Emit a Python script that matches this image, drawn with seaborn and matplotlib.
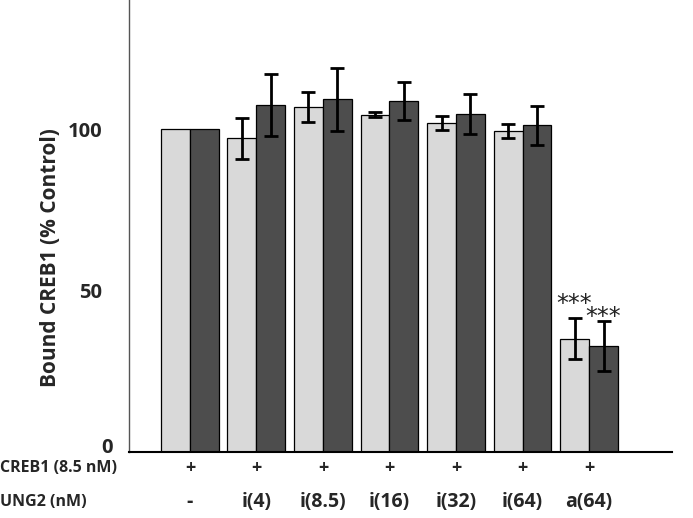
import numpy as np
import pandas as pd
import matplotlib
matplotlib.use("Agg")
import matplotlib.pyplot as plt
import matplotlib.transforms as mtransforms
import seaborn as sns

# data
groups = ["-", "i(4)", "i(8.5)", "i(16)", "i(32)", "i(64)", "a(64)"]
creb1_row = ["+", "+", "+", "+", "+", "+", "+"]
series = ["A", "B"]
light_vals = [100, 97.2, 106.9, 104.5, 101.9, 99.4, 35.2]
light_err = [0, 6.4, 4.7, 0.7, 2.3, 2.2, 6.4]
dark_vals = [100, 107.6, 109.2, 108.7, 104.6, 101.2, 32.9]
dark_err = [0, 9.6, 9.7, 6.0, 6.2, 6.0, 7.7]
stars = ["", "", "", "", "", "", "***"]
yticks = [0, 50, 100]

sns.set_theme(style="white")
plt.rcParams['font.family'] = ['Open Sans', 'DejaVu Sans']

df = pd.DataFrame({
    "group": groups * 2,
    "series": [series[0]] * len(groups) + [series[1]] * len(groups),
    "value": light_vals + dark_vals,
})

fig = plt.figure(figsize=(6.93, 5.18), dpi=100)
ax = fig.add_axes([0.186, 0.127, 0.784, 0.873])

sns.barplot(
    data=df, x="group", y="value", hue="series",
    order=groups, hue_order=series,
    palette=["#d9d9d9", "#4d4d4d"],
    width=0.87, errorbar=None,
    edgecolor="black", linewidth=0.9,
    legend=False, ax=ax
)

errs = [light_err, dark_err]
star_lift = [10, 3]  # points above the cap, first set sits higher
bar_conts = list(ax.containers)
for k, cont in enumerate(bar_conts):
    for i, bar in enumerate(cont.patches):
        xc = bar.get_x() + bar.get_width() / 2
        h = bar.get_height()
        e = errs[k][i]
        if e > 0:
            ax.errorbar(xc, h, yerr=e, fmt="none", ecolor="black",
                        elinewidth=2, capsize=5, capthick=2)
        if stars[i]:
            ax.annotate(stars[i], (xc, h + e), xytext=(0, star_lift[k]),
                        textcoords="offset points", ha="center", va="center",
                        fontsize=17, color="#222222", family="DejaVu Sans")

ax.set_ylim(0, 140)
ax.set_xlim(-0.917, 7.25)
ax.set_yticks(yticks)
ax.set_yticklabels([str(t) for t in yticks], fontsize=14.5, fontweight="bold")
ax.set_xticks([])
ax.set_xlabel("")
ax.set_ylabel("Bound CREB1 (% Control)", fontsize=15, fontweight="bold")
ax.yaxis.set_label_coords(-0.125, 0.43)
ax.tick_params(axis="y", length=0, pad=19)

# the "0" label sits a bit higher and to the right in the original
zero_lab = ax.get_yticklabels()[0]
zero_lab.set_transform(zero_lab.get_transform() +
                       mtransforms.ScaledTranslation(0.1, 0.07, fig.dpi_scale_trans))

sns.despine(ax=ax)
ax.spines["left"].set_color("#555555")
ax.spines["left"].set_linewidth(1.0)
ax.spines["bottom"].set_color("black")
ax.spines["bottom"].set_linewidth(1.5)

# rows under the axis
y_plus = 1 - 468 / 518
y_grp = 1 - 502 / 518
for i in range(len(groups)):
    xf = fig.transFigure.inverted().transform(ax.transData.transform((i, 0)))[0]
    fig.text(xf, y_plus, creb1_row[i], ha="center", va="center",
             fontsize=13, fontweight="bold")
    fig.text(xf, y_grp, groups[i], ha="center", va="center",
             fontsize=14, fontweight="bold")
fig.text(0.0, y_plus, "CREB1 (8.5 nM)", ha="left", va="center",
         fontsize=11.5, fontweight="bold")
fig.text(0.0, y_grp, "UNG2 (nM)", ha="left", va="center",
         fontsize=11.5, fontweight="bold")

fig.savefig("out.png", dpi=100)
